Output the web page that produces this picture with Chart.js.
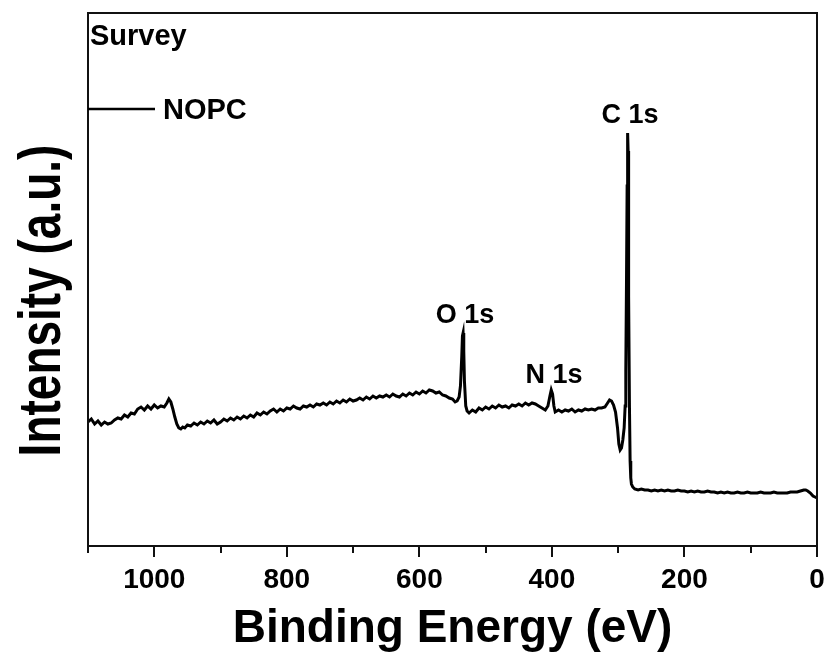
<!DOCTYPE html>
<html>
<head>
<meta charset="utf-8">
<script src="https://cdn.jsdelivr.net/npm/chart.js@4/dist/chart.umd.min.js"></script>
<style>
  html, body { margin: 0; padding: 0; background: #ffffff; }
  #wrap { width: 831px; height: 660px; position: relative; }
</style>
</head>
<body>
<div id="wrap"><canvas id="c"></canvas></div>
<script>
// ---- data ----
const energy = [
 1100,1095,1090,1085,1080,1075,1070,1065,1060,1055,1050,1045,1040,1035,1030,1025,1020,1015,1010,1005,
 1000,995,990,985,981,978,975,972,969,966,963,960,957,954,950,945,940,935,930,925,
 920,915,910,905,900,895,890,885,880,875,870,865,860,855,850,845,840,835,830,825,
 820,815,810,805,800,795,790,785,780,775,770,765,760,755,750,745,740,735,730,725,
 720,715,710,705,700,695,690,685,680,675,670,665,660,655,650,645,640,635,630,625,
 620,615,610,605,600,595,590,585,580,575,570,565,560,555,550,546,543,540,538,536,
 535,534,533,532,530,528,525,520,515,510,505,500,495,490,485,480,475,470,465,460,
 455,450,445,440,435,430,425,420,415,410,406,403,401,399,397,395,390,385,380,375,
 370,365,360,355,350,345,340,335,330,325,320,316,313,310,307,304,301,299,297,295,
 293,291,289.5,288.5,287.5,286.5,286,285.5,285,284.5,284,283,282,281,280,278,275,270,265,260,255,250,
 245,240,235,230,225,220,215,210,205,200,195,190,185,180,175,170,165,160,155,150,
 145,140,135,130,125,120,115,110,105,100,95,90,85,80,75,70,65,60,55,50,
 45,40,35,30,25,20,17,14,10,6,3,0
];
const intensity = [
 124,127,122,125,121,124,122,123,126,128,127,131,129,133,132,137,139,136,140,137,
 141,138,140,139,143,147,144,137,129,122,118,117,119,118,121,120,123,121,124,122,
 125,123,126,122,124,127,125,128,126,129,127,130,128,131,129,133,131,134,132,135,
 137,134,137,135,138,137,140,138,137,140,139,141,139,142,141,143,141,144,142,145,
 143,146,144,147,145,146,148,146,149,147,150,148,150,149,151,149,152,150,149,152,
 150,153,151,154,152,155,153,156,155,153,154,151,150,148,147,144,145,149,160,190,
 210,213,195,165,140,135,133,136,134,138,136,139,137,140,138,141,139,140,138,141,
 140,142,140,143,141,143,142,140,138,136,140,150,156,152,140,134,136,134,136,135,
 137,134,136,135,137,136,137,136,138,138,139,143,146,145,141,134,118,102,96,98,
 106,118,140,175,260,360,405,413,395,340,250,140,85,68,62,59,57,56,57,56,56,55,
 56,55,56,55,56,55,55,56,55,55,54,55,54,55,54,54,55,54,54,53,
 54,53,54,53,53,54,53,53,54,53,53,53,54,53,53,53,54,53,53,53,
 53,54,54,54,55,56,56,55,53,50,49,48
];
const majorTicks = [1000, 800, 600, 400, 200, 0];
const minorTicks = [1100, 900, 700, 500, 300, 100];
const seriesName = 'NOPC';
const panelLabel = 'Survey';
const peakNames = ['O 1s', 'N 1s', 'C 1s'];
const peakLabelEnergy = [531, 397, 282];
const peakLabelIntensity = [223, 163, 423];
const xTitle = 'Binding Energy (eV)';
const yTitle = 'Intensity (a.u.)';

const FONT = '"Liberation Sans", Arial, Helvetica, sans-serif';
Chart.defaults.font.family = FONT;
Chart.defaults.color = '#000';

const points = energy.map((e, i) => ({ x: e, y: intensity[i] }));

const decorations = {
  id: 'decorations',
  afterDatasetsDraw(chart) {
    const { ctx, chartArea: a, scales } = chart;
    const xs = scales.x, ys = scales.y;
    ctx.save();
    // frame
    ctx.strokeStyle = '#111';
    ctx.lineWidth = 2;
    ctx.strokeRect(a.left, a.top, a.right - a.left, a.bottom - a.top);
    // minor ticks
    ctx.beginPath();
    minorTicks.forEach(v => {
      const px = Math.round(xs.getPixelForValue(v));
      ctx.moveTo(px, a.bottom);
      ctx.lineTo(px, a.bottom + 7);
    });
    ctx.stroke();
    // panel label
    ctx.fillStyle = '#000';
    ctx.font = 'bold 29px ' + FONT;
    ctx.textAlign = 'left';
    ctx.textBaseline = 'alphabetic';
    ctx.fillText(panelLabel, a.left + 2, a.top + 32);
    // legend
    ctx.lineWidth = 2.5;
    ctx.strokeStyle = '#000';
    ctx.beginPath();
    ctx.moveTo(a.left, a.top + 96);
    ctx.lineTo(a.left + 67, a.top + 96);
    ctx.stroke();
    ctx.fillText(seriesName, a.left + 75, a.top + 106);
    // peak labels
    ctx.font = 'bold 27px ' + FONT;
    ctx.textAlign = 'center';
    peakNames.forEach((t, i) => {
      ctx.fillText(t, xs.getPixelForValue(peakLabelEnergy[i]), ys.getPixelForValue(peakLabelIntensity[i]));
    });
    // y title (stretched like the reference)
    ctx.save();
    const cy = (a.top + a.bottom) / 2 + 21;
    ctx.translate(60, cy);
    ctx.rotate(-Math.PI / 2);
    ctx.scale(1, 1.27);
    ctx.font = 'bold 46px ' + FONT;
    ctx.textAlign = 'center';
    ctx.textBaseline = 'alphabetic';
    ctx.fillText(yTitle, 0, 0);
    ctx.restore();
    ctx.restore();
  }
};

new Chart(document.getElementById('c'), {
  type: 'line',
  data: {
    datasets: [{
      label: seriesName,
      data: points,
      borderColor: '#000',
      borderWidth: 3,
      pointRadius: 0,
      tension: 0,
      fill: false
    }]
  },
  options: {
    responsive: true,
    maintainAspectRatio: false,
    animation: false,
    parsing: true,
    layout: { padding: { top: 13, right: 14, left: 0, bottom: 0 } },
    plugins: { legend: { display: false }, tooltip: { enabled: false } },
    scales: {
      x: {
        type: 'linear',
        reverse: true,
        min: 0,
        max: 1100,
        afterBuildTicks: s => { s.ticks = majorTicks.map(v => ({ value: v })); },
        afterFit: s => { s.height = 114; },
        border: { display: false },
        grid: { drawOnChartArea: false, drawTicks: true, tickLength: 11, color: '#111', lineWidth: 2 },
        ticks: {
          padding: 6,
          maxRotation: 0,
          autoSkip: false,
          color: '#000',
          font: { size: 28, weight: 'bold' },
          callback: v => String(v)
        },
        title: {
          display: true,
          text: xTitle,
          color: '#000',
          font: { size: 46, weight: 'bold' },
          padding: { top: 0, bottom: 3 }
        }
      },
      y: {
        min: 0,
        max: 533,
        afterFit: s => { s.width = 88; },
        border: { display: false },
        grid: { display: false, drawTicks: false },
        ticks: { display: false }
      }
    }
  },
  plugins: [decorations]
});
</script>
</body>
</html>
